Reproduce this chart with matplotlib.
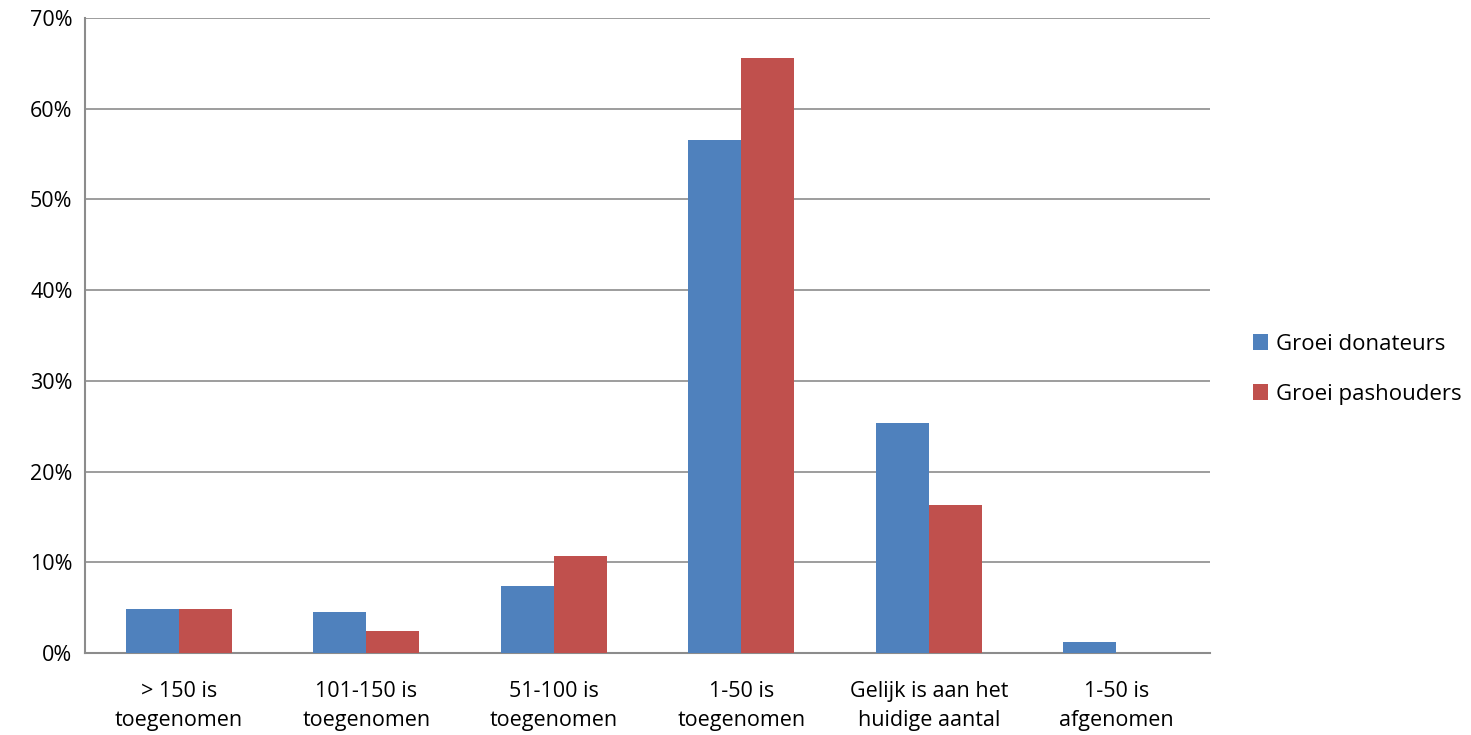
import numpy as np
import matplotlib
matplotlib.use("Agg")
import matplotlib.pyplot as plt
from matplotlib.ticker import FuncFormatter

plt.rcParams["font.family"] = ["Open Sans", "DejaVu Sans"]

categories = [
    "> 150 is\ntoegenomen",
    "101-150 is\ntoegenomen",
    "51-100 is\ntoegenomen",
    "1-50 is\ntoegenomen",
    "Gelijk is aan het\nhuidige aantal",
    "1-50 is\nafgenomen",
]
donateurs = [4.9, 4.5, 7.4, 56.6, 25.4, 1.2]
pashouders = [4.9, 2.4, 10.7, 65.6, 16.3, 0.0]
series_names = ["Groei donateurs", "Groei pashouders"]
colors = ["#4F81BD", "#C0504D"]

fig = plt.figure(figsize=(14.71, 7.35), dpi=100)
ax = fig.add_axes([0.0578, 0.1116, 0.7648, 0.8639])

x = np.arange(len(categories))
w = 0.283
ax.bar(x - w / 2, donateurs, w, color=colors[0], label=series_names[0], zorder=3)
ax.bar(x + w / 2, pashouders, w, color=colors[1], label=series_names[1], zorder=3)

ax.set_xlim(-0.5, len(categories) - 0.5)
ax.set_ylim(0, 70)
ax.set_yticks(range(0, 71, 10))
ax.yaxis.set_major_formatter(FuncFormatter(lambda v, p: f"{v:.0f}%"))
ax.yaxis.grid(True, color="#8c8c8c", linewidth=1.2, zorder=0)
ax.set_axisbelow(True)

ax.set_xticks(x)
ax.set_xticklabels(categories, fontsize=15.5, linespacing=1.5)
ax.tick_params(axis="x", length=0, pad=20)
ax.tick_params(axis="y", length=0, pad=9, labelsize=15.5)

for side in ["top", "right"]:
    ax.spines[side].set_visible(False)
for side in ["left", "bottom"]:
    ax.spines[side].set_color("#8c8c8c")
    ax.spines[side].set_linewidth(1.5)

ax.legend(loc="center left", bbox_to_anchor=(1.028, 0.447), frameon=False,
          fontsize=16, handlelength=0.7, handleheight=0.7,
          handletextpad=0.35, labelspacing=1.3, borderpad=0)

fig.savefig("out.png", dpi=100)
